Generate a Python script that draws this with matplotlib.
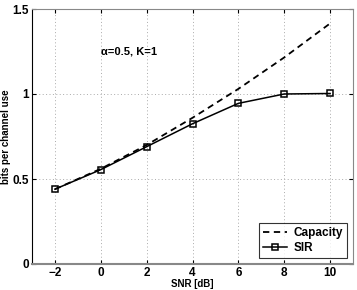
import matplotlib
matplotlib.use("Agg")
import matplotlib.pyplot as plt

snr_db = [-2, 0, 2, 4, 6, 8, 10]
capacity = [0.44, 0.56, 0.70, 0.86, 1.03, 1.215, 1.415]
sir = [0.44, 0.555, 0.69, 0.825, 0.945, 1.0, 1.003]
xticks = [-2, 0, 2, 4, 6, 8, 10]
yticks = [0, 0.5, 1, 1.5]
ytick_labels = ["0", "0.5", "1", "1.5"]

plt.rcParams['font.family'] = ['Liberation Sans', 'DejaVu Sans']
plt.rcParams['font.weight'] = 'bold'

fig = plt.figure(figsize=(3.57, 2.90), dpi=100)
ax = fig.add_axes([32/357, 1-264/290, (353-32)/357, (264-9)/290])

ax.plot(snr_db, capacity, color='black', linestyle=(0, (3.5, 2.5)), lw=1.3, label='Capacity')
ax.plot(snr_db, sir, color='black', lw=1.1, marker='s', markersize=4.5,
        markerfacecolor='none', markeredgewidth=1.1, label='SIR')

ax.set_xlim(-3, 11)
ax.set_ylim(0, 1.5)
ax.set_xticks(xticks)
ax.set_xticklabels(['\u22122', '0', '2', '4', '6', '8', '10'])
ax.set_yticks(yticks)
ax.set_yticklabels(ytick_labels)
ax.tick_params(direction='in', length=3, labelsize=8.5, pad=2, top=True, right=True)
ax.grid(True, linestyle=(0, (1, 2.5)), color='#aaaaaa', lw=0.7)

for s in ['top', 'right', 'bottom']:
    ax.spines[s].set_color('#888888')
ax.spines['bottom'].set_linewidth(1.5)
ax.spines['left'].set_color('black')

ax.set_xlabel('SNR [dB]', fontsize=7, fontweight='bold', labelpad=0)
ax.set_ylabel('bits per channel use', fontsize=7, fontweight='bold', labelpad=1)

ax.text(0.0, 1.25, '\u03b1=0.5, K=1', fontsize=8, fontweight='bold', va='center', ha='left')

leg = ax.legend(loc='lower right', fontsize=8.5, frameon=True, fancybox=False,
                edgecolor='black', borderpad=0.35, labelspacing=0.25,
                handlelength=2.0, handletextpad=0.6, borderaxespad=0.5)
leg.get_frame().set_linewidth(0.8)

fig.savefig('out.png', dpi=100)
